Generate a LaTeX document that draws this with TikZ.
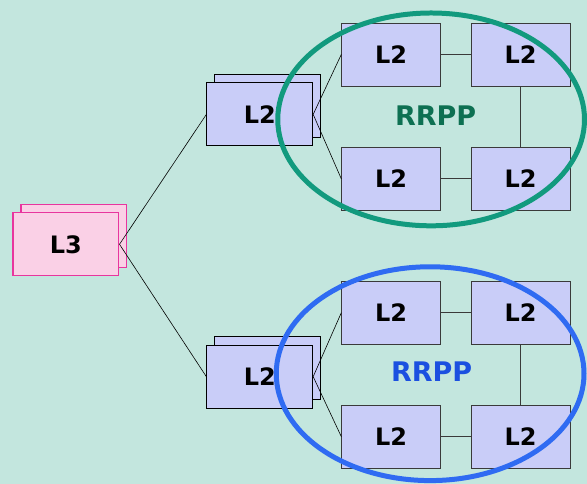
\documentclass[tikz,border=0pt]{standalone}
\usepackage{fontspec}
\setmainfont{DejaVu Sans}
\definecolor{bgc}{HTML}{C3E6DE}
\definecolor{lavfill}{HTML}{C9CDF8}
\definecolor{boxline}{HTML}{3A3A3A}
\definecolor{pinkfill}{HTML}{FAD0E6}
\definecolor{pinkline}{HTML}{E8359E}
\definecolor{greenring}{HTML}{129A7E}
\definecolor{greentext}{HTML}{0D7052}
\definecolor{bluering}{HTML}{2F6BF2}
\definecolor{bluetext}{HTML}{1B50E0}
\begin{document}
\begin{tikzpicture}[x=1pt,y=-1pt,
  l2box/.style={rectangle,draw=boxline,line width=0.8pt,fill=lavfill,minimum width=99pt,minimum height=63pt,inner sep=0pt,font=\fontsize{24}{24}\selectfont\bfseries},
  stackbox/.style={rectangle,draw=black,line width=0.9pt,fill=lavfill,minimum width=106pt,minimum height=63pt,inner sep=0pt,font=\fontsize{24}{24}\selectfont\bfseries},
  l3box/.style={rectangle,draw=pinkline,line width=1.2pt,fill=pinkfill,minimum width=106pt,minimum height=63pt,inner sep=0pt,font=\fontsize{24}{24}\selectfont\bfseries},
  link/.style={draw=black,line width=0.6pt},
  ringlink/.style={draw=boxline,line width=0.8pt},
  ringlabel/.style={font=\fontsize{27}{27}\selectfont\bfseries}]
\fill[bgc] (0,0) rectangle (587,484);
% L3 stack
\node[l3box] (l3back) at (74,236.5) {};
\node[l3box] (l3) at (66,244.5) {L3};
% upper L2 stack
\node[stackbox] (ua) at (267.5,106.5) {};
\node[stackbox] (u) at (260,114.5) {L2};
% lower L2 stack
\node[stackbox] (da) at (267.5,368.5) {};
\node[stackbox] (d) at (260,377) {L2};
% upper ring
\node[l2box] (u1) at (391.5,54.5) {L2};
\node[l2box] (u2) at (521,54.5) {L2};
\node[l2box] (u3) at (391.5,179) {L2};
\node[l2box] (u4) at (521,179) {L2};
% lower ring
\node[l2box] (d1) at (391.5,313) {L2};
\node[l2box] (d2) at (521,313) {L2};
\node[l2box] (d3) at (391.5,437) {L2};
\node[l2box] (d4) at (521,437) {L2};
% links
\draw[link] (l3.east) -- (u.west);
\draw[link] (l3.east) -- (d.west);
\draw[link] (u.east) -- (u1.west);
\draw[link] (u.east) -- (u3.west);
\draw[link] (d.east) -- (d1.west);
\draw[link] (d.east) -- (d3.west);
\draw[ringlink] (u1) -- (u2);
\draw[ringlink] (u2) -- (u4);
\draw[ringlink] (u3) -- (u4);
\draw[ringlink] (d1) -- (d2);
\draw[ringlink] (d2) -- (d4);
\draw[ringlink] (d3) -- (d4);
% rings
\draw[greenring,line width=5pt] (431.5,119.5) ellipse [x radius=153.5, y radius=106.5];
\draw[bluering,line width=5pt] (430.5,374) ellipse [x radius=154, y radius=107];
\node[ringlabel,text=greentext] (rg) at (436,116) {RRPP};
\node[ringlabel,text=bluetext] (rb) at (432,372) {RRPP};
\end{tikzpicture}
\end{document}
